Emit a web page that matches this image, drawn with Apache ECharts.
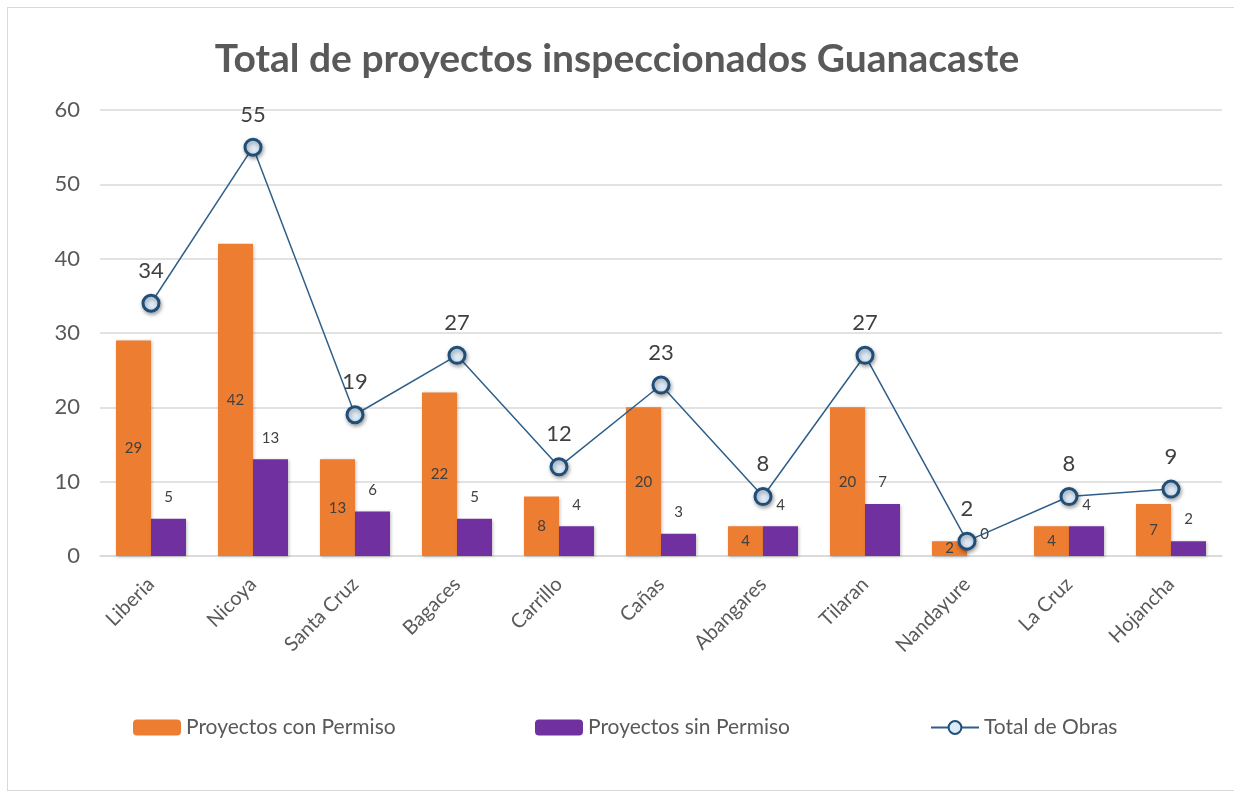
<!DOCTYPE html>
<html>
<head>
<meta charset="utf-8">
<script src="https://cdn.jsdelivr.net/npm/echarts@6/dist/echarts.min.js"></script>
<style>
  html, body { margin: 0; padding: 0; background: #fff; }
  .frame {
    position: absolute;
    left: 7px; top: 7px;
    width: 1240px; height: 782px;
    border: 1px solid #d9d9d9;
  }
  #chart { position: absolute; left: 0; top: 0; width: 1234px; height: 794px; }
</style>
</head>
<body>
<div class="frame"></div>
<div id="chart"></div>
<script>
// cantones
const cantones = ['Liberia', 'Nicoya', 'Santa Cruz', 'Bagaces', 'Carrillo', 'Cañas',
  'Abangares', 'Tilaran', 'Nandayure', 'La Cruz', 'Hojancha'];
const conPermiso = [29, 42, 13, 22, 8, 20, 4, 20, 2, 4, 7];
const sinPermiso = [5, 13, 6, 5, 4, 3, 4, 7, 0, 4, 2];
const totalObras = [34, 55, 19, 27, 12, 23, 8, 27, 2, 8, 9];

const textColor = '#595959';
const fontName = 'Lato';

const legendText = { fontSize: 21, color: textColor };

const chart = echarts.init(document.getElementById('chart'));
const option = {
  textStyle: { fontFamily: fontName },
  title: {
    text: 'Total de proyectos inspeccionados Guanacaste',
    left: 'center',
    top: 35,
    textStyle: { fontSize: 39, fontWeight: 'bold', color: textColor, fontFamily: fontName },
  },
  legend: [
    {
      data: ['Proyectos con Permiso'],
      left: 133, top: 717, padding: 0,
      itemWidth: 48, itemHeight: 16,
      textStyle: legendText,
    },
    {
      data: ['Proyectos sin Permiso'],
      left: 535, top: 717, padding: 0,
      itemWidth: 48, itemHeight: 16,
      textStyle: legendText,
    },
    {
      data: ['Total de Obras'],
      left: 930, top: 717, padding: 0,
      itemWidth: 48, itemHeight: 16,
      textStyle: legendText,
    },
  ],
  grid: { left: 100, right: 12, top: 110, bottom: 238 },
  xAxis: {
    type: 'category',
    data: cantones,
    axisLine: { lineStyle: { color: '#d9d9d9', width: 1.5 } },
    axisTick: { show: false },
    axisLabel: { rotate: 45, fontSize: 20, color: textColor, margin: 25, interval: 0 },
  },
  yAxis: {
    type: 'value',
    min: 0, max: 60, interval: 10,
    axisLine: { show: false },
    axisTick: { show: false },
    axisLabel: { fontSize: 22, color: textColor, margin: 20 },
    splitLine: { lineStyle: { color: '#d9d9d9', width: 1.5 } },
  },
  series: [
    {
      name: 'Proyectos con Permiso',
      type: 'bar',
      data: conPermiso,
      barWidth: 35,
      barGap: 0,
      itemStyle: { color: '#ed7d31', shadowBlur: 3, shadowColor: 'rgba(0,0,0,0.25)', shadowOffsetX: 1, shadowOffsetY: 1 },
      label: { show: true, position: 'inside', fontSize: 15, color: '#404040' },
    },
    {
      name: 'Proyectos sin Permiso',
      type: 'bar',
      data: sinPermiso,
      barWidth: 35,
      itemStyle: { color: '#7030a0', shadowBlur: 3, shadowColor: 'rgba(0,0,0,0.25)', shadowOffsetX: 1, shadowOffsetY: 1 },
      label: { show: true, position: 'top', distance: 14, fontSize: 15, color: '#404040' },
    },
    {
      name: 'Total de Obras',
      type: 'line',
      data: totalObras,
      symbol: 'circle',
      symbolSize: 16,
      lineStyle: { color: '#2e5f8a', width: 1.5 },
      itemStyle: {
        color: '#dce9f6', borderColor: '#1f4e79', borderWidth: 3,
        shadowBlur: 4, shadowColor: 'rgba(0,0,0,0.35)', shadowOffsetX: 1, shadowOffsetY: 2,
      },
      label: { show: true, position: 'top', distance: 12, fontSize: 22, color: '#404040' },
      z: 5,
    },
  ],
};
chart.setOption(option);
</script>
</body>
</html>
